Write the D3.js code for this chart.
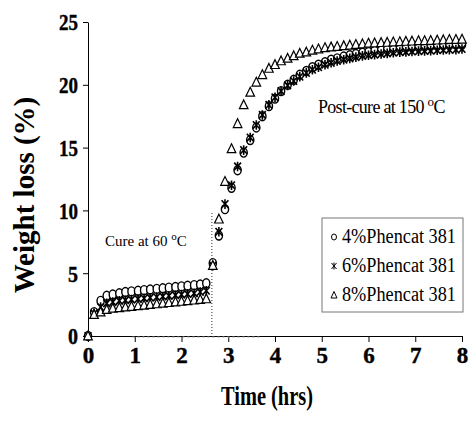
<!DOCTYPE html>
<html><head><meta charset="utf-8">
<script src="https://cdnjs.cloudflare.com/ajax/libs/d3/7.8.5/d3.min.js"></script>
<style>html,body{margin:0;padding:0;background:#fff;}svg{display:block;}</style>
</head><body>
<svg id="chart" width="473" height="422"></svg>
<script>
// ---- data ----
const times = [0, 0.13, 0.27, 0.40, 0.53, 0.67, 0.80, 0.93, 1.07, 1.20, 1.33, 1.47, 1.60, 1.73, 1.87, 2.00, 2.13, 2.27, 2.40, 2.53,
  2.67, 2.80, 2.93, 3.07, 3.20, 3.33, 3.47, 3.60, 3.73, 3.87, 4.00, 4.13, 4.27, 4.40, 4.53, 4.67, 4.80, 4.93, 5.07, 5.20,
  5.33, 5.47, 5.60, 5.73, 5.87, 6.00, 6.13, 6.27, 6.40, 6.53, 6.67, 6.80, 6.93, 7.07, 7.20, 7.33, 7.47, 7.60, 7.73, 7.87, 8.00];
const phencat4 = [0, 1.9, 2.8, 3.2, 3.3, 3.4, 3.5, 3.55, 3.6, 3.65, 3.7, 3.75, 3.8, 3.85, 3.9, 3.95, 4.0, 4.05, 4.1, 4.2,
  5.8, 8.0, 10.1, 11.8, 13.2, 14.6, 15.6, 16.6, 17.5, 18.3, 18.9, 19.5, 20.0, 20.4, 20.8, 21.1, 21.4, 21.6, 21.8, 22.0,
  22.1, 22.25, 22.35, 22.45, 22.55, 22.6, 22.7, 22.75, 22.8, 22.85, 22.9, 22.95, 23.0, 23.0, 23.05, 23.1, 23.1, 23.15, 23.15, 23.2, 23.2];
const phencat6 = [0, 1.8, 2.3, 2.6, 2.7, 2.8, 2.85, 2.9, 2.95, 3.0, 3.05, 3.1, 3.15, 3.2, 3.25, 3.3, 3.35, 3.4, 3.5, 3.6,
  5.6, 8.3, 10.5, 12.0, 13.5, 14.8, 15.8, 16.8, 17.6, 18.4, 19.0, 19.5, 19.95, 20.3, 20.65, 20.95, 21.2, 21.4, 21.6, 21.75,
  21.9, 22.0, 22.1, 22.2, 22.3, 22.35, 22.4, 22.45, 22.5, 22.55, 22.6, 22.62, 22.65, 22.68, 22.7, 22.72, 22.75, 22.77, 22.8, 22.8, 22.85];
const phencat8 = [0, 1.7, 1.9, 2.1, 2.2, 2.25, 2.3, 2.35, 2.4, 2.45, 2.5, 2.55, 2.6, 2.65, 2.7, 2.75, 2.8, 2.85, 2.9, 2.95,
  5.6, 9.3, 12.3, 14.9, 16.9, 18.4, 19.4, 20.2, 20.8, 21.3, 21.6, 21.9, 22.1, 22.3, 22.5, 22.6, 22.75, 22.85, 22.95, 23.0,
  23.05, 23.1, 23.15, 23.2, 23.25, 23.3, 23.32, 23.35, 23.37, 23.4, 23.42, 23.45, 23.47, 23.5, 23.5, 23.52, 23.55, 23.57, 23.6, 23.6, 23.62];
const seriesNames = ["4%Phencat 381", "6%Phencat 381", "8%Phencat 381"];
const xTicks = [0, 1, 2, 3, 4, 5, 6, 7, 8];
const yTicks = [0, 5, 10, 15, 20, 25];
const cureEnd = 2.65;

// ---- layout ----
const svg = d3.select("#chart");
const x = d3.scaleLinear().domain([0, 8]).range([88, 462]);
const y = d3.scaleLinear().domain([0, 25]).range([336, 22]);
const serif = "'Liberation Serif','Times New Roman',serif";

// axes
const xAxis = svg.append("g").attr("transform", `translate(0,${y(0)})`)
  .call(d3.axisBottom(x).tickValues(xTicks).tickSize(6).tickSizeOuter(0).tickFormat(d3.format("d")));
const yAxis = svg.append("g").attr("transform", `translate(${x(0)},0)`)
  .call(d3.axisLeft(y).tickValues(yTicks).tickSize(5).tickSizeOuter(0).tickFormat(d3.format("d")));
[xAxis, yAxis].forEach(g => {
  g.attr("font-family", serif).attr("font-size", 23).attr("font-weight", "bold");
  g.select(".domain").attr("stroke", "#000").attr("stroke-width", 1);
  g.selectAll(".tick line").attr("stroke", "#000").attr("stroke-width", 1);
  g.selectAll(".tick text").attr("fill", "#000").attr("stroke", "#000").attr("stroke-width", 0.4)
    .style("font-weight", "bold").style("font-size", "23px");
});
xAxis.selectAll(".tick text").attr("dy", null).attr("y", 27);
yAxis.selectAll(".tick text").attr("x", -10).attr("dy", "0.34em")
  .attr("textLength", d => d >= 10 ? 19 : 10).attr("lengthAdjust", "spacingAndGlyphs");

// faint dotted segment near axis
svg.append("line").attr("x1", x(0.95)).attr("x2", x(3.7)).attr("y1", y(0) + 1).attr("y2", y(0) + 1)
  .attr("stroke", "#999").attr("stroke-dasharray", "2,3").attr("stroke-width", 1);

// cure end dotted line
svg.append("line").attr("x1", x(cureEnd)).attr("x2", x(cureEnd)).attr("y1", 213).attr("y2", y(0))
  .attr("stroke", "#333").attr("stroke-dasharray", "1,2").attr("stroke-width", 1);

// axis titles
svg.append("text").attr("x", 267).attr("y", 405).attr("text-anchor", "middle")
  .attr("font-family", serif).attr("font-weight", "bold").attr("font-size", 28)
  .attr("textLength", 92).attr("lengthAdjust", "spacingAndGlyphs").text("Time (hrs)");
svg.append("text").attr("transform", "translate(34,195) rotate(-90)").attr("text-anchor", "middle")
  .attr("font-family", serif).attr("font-weight", "bold").attr("font-size", 29)
  .text("Weight loss (%)");

// markers
const g = svg.append("g");
const pts = (vals) => times.map((t, i) => ({ t, v: vals[i] }));
g.selectAll("ellipse.c4").data(pts(phencat4)).join("ellipse").attr("class", "c4")
  .attr("cx", d => x(d.t)).attr("cy", d => y(d.v)).attr("rx", 3.6).attr("ry", 4.5)
  .attr("fill", "#fff").attr("stroke", "#000").attr("stroke-width", 1.4);
const starPath = "M-3.4,-3.8L3.4,3.8M-3.4,3.8L3.4,-3.8M0,-4.8L0,4.8";
g.selectAll("path.s6").data(pts(phencat6)).join("path").attr("class", "s6")
  .attr("transform", d => `translate(${x(d.t)},${y(d.v)})`).attr("d", starPath)
  .attr("fill", "none").attr("stroke", "#000").attr("stroke-width", 1.6);
const triPath = "M0,-5L4.3,3.8L-4.3,3.8Z";
g.selectAll("path.t8").data(pts(phencat8)).join("path").attr("class", "t8")
  .attr("transform", d => `translate(${x(d.t)},${y(d.v)})`).attr("d", triPath)
  .attr("fill", "#fff").attr("stroke", "#000").attr("stroke-width", 1.2);

// annotations
const cure = svg.append("text").attr("x", 105).attr("y", 246).attr("font-family", serif).attr("font-size", 15);
cure.append("tspan").text("Cure at 60 ");
cure.append("tspan").attr("dy", -6).attr("font-size", 11).text("o");
cure.append("tspan").attr("dy", 6).text("C");
const post = svg.append("text").attr("x", 318).attr("y", 113).attr("font-family", serif).attr("font-size", 18)
  .attr("letter-spacing", -0.7);
post.append("tspan").text("Post-cure at 150 ");
post.append("tspan").attr("dy", -7).attr("font-size", 13).text("o");
post.append("tspan").attr("dy", 7).text("C");

// legend
const lg = svg.append("g");
lg.append("rect").attr("x", 322).attr("y", 218).attr("width", 141).attr("height", 94)
  .attr("fill", "#fff").attr("stroke", "#777").attr("stroke-width", 1);
const ly = [237, 266, 295];
seriesNames.forEach((name, i) => {
  const cy = ly[i];
  if (i === 0) lg.append("ellipse").attr("cx", 334).attr("cy", cy).attr("rx", 2.5).attr("ry", 3)
    .attr("fill", "#fff").attr("stroke", "#000").attr("stroke-width", 1);
  if (i === 1) lg.append("path").attr("transform", `translate(334,${cy})`).attr("d", "M-2.5,-3L2.5,3M-2.5,3L2.5,-3M0,-3.5L0,3.5")
    .attr("stroke", "#000").attr("stroke-width", 1);
  if (i === 2) lg.append("path").attr("transform", `translate(334,${cy})`).attr("d", "M0,-3.5L3,3L-3,3Z")
    .attr("fill", "#fff").attr("stroke", "#000").attr("stroke-width", 1);
  lg.append("text").attr("x", 342).attr("y", cy + 6).attr("font-family", serif).attr("font-size", 20)
    .attr("textLength", 114).attr("lengthAdjust", "spacingAndGlyphs").text(name);
});
</script>
</body></html>
